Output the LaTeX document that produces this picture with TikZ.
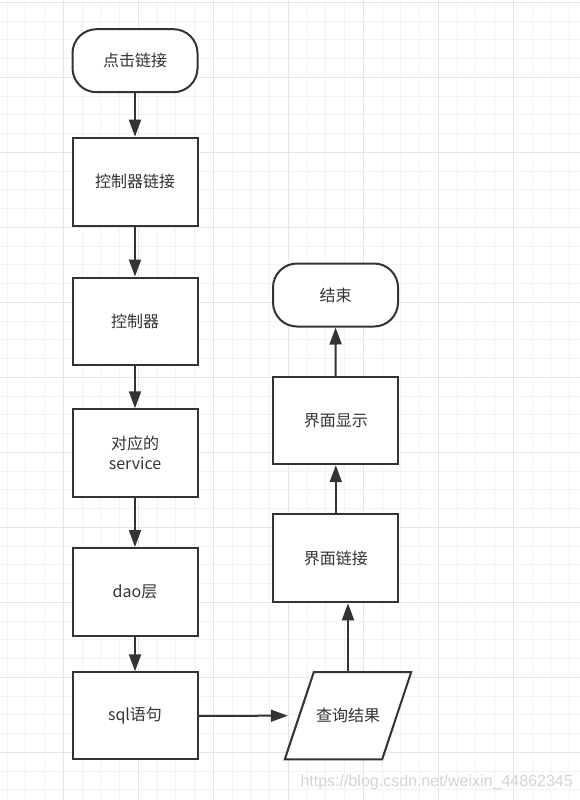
\documentclass[tikz,border=0pt]{standalone}
\usepackage{fontspec}
\setmainfont{Noto Sans CJK SC}
\newfontfamily\wmfont{Liberation Sans}
\usepackage{xcolor}
\usetikzlibrary{arrows.meta, positioning, calc}
\definecolor{inkgray}{HTML}{333333}
\definecolor{gridminor}{HTML}{F3F3F3}
\definecolor{gridmajor}{HTML}{E6E6E6}
\tikzset{
    box/.style={draw=inkgray, line width=2pt, fill=white, minimum width=125pt, minimum height=87pt, inner sep=0pt, align=center},
    terminal/.style={box, minimum height=63pt, rounded corners=24pt},
    flow/.style={-{Triangle[length=17pt, width=12pt]}, draw=inkgray, line width=2pt},
    every node/.style={font=\fontsize{16pt}{20pt}\selectfont, text=inkgray}
}
\begin{document}
\begin{tikzpicture}[x=1pt, y=-1pt]
    \useasboundingbox (0,0) rectangle (580,800);
    \fill[white] (0,0) rectangle (580,800);
    % grid
    \foreach \k in {0,...,30} \draw[gridminor, line width=1pt] ({7.05+18.75*\k},0) -- ++(0,800);
    \foreach \k in {0,...,42} \draw[gridminor, line width=1pt] (0,{2.3+18.75*\k}) -- ++(580,0);
    \foreach \k in {0,...,7} \draw[gridmajor, line width=1pt] ({63.3+75*\k},0) -- ++(0,800);
    \foreach \k in {0,...,10} \draw[gridmajor, line width=1pt] (0,{2.3+75*\k}) -- ++(580,0);
    % left column
    \node[terminal] (click) at (135,60.7) {点击链接};
    \node[box, minimum height=88pt] (ctrllink) at (135,181.7) {控制器链接};
    \node[box] (ctrl) at (135,321) {控制器};
    \node[box, minimum height=88pt] (service) at (135,453.3) {对应的\\service};
    \node[box, minimum height=88pt] (dao) at (135,592) {dao层};
    \node[box] (sql) at (135,715.8) {sql语句};
    % result (parallelogram)
    \node[minimum width=97pt, minimum height=86.7pt, inner sep=0pt] (result) at (348,715.7) {};
    \draw[inkgray, line width=2pt, fill=white, line join=miter]
        ($(result.north west)+(14.5,0)$) -- ($(result.north east)+(14.5,0)$)
        -- ($(result.south east)+(-14.5,0)$) -- ($(result.south west)+(-14.5,0)$) -- cycle;
    \node at (result) {查询结果};
    % right column
    \node[box, minimum height=88pt] (uilink) at (335.8,558.3) {界面链接};
    \node[box] (uishow) at (335.8,420.7) {界面显示};
    \node[terminal] (finish) at (335.5,295) {结束};
    % connectors
    \draw[flow] (click) -- (ctrllink);
    \draw[flow] (ctrllink) -- (ctrl);
    \draw[flow] (ctrl) -- (service);
    \draw[flow] (service) -- (dao);
    \draw[flow] (dao) -- (sql);
    \draw[flow, shorten >=11.5pt] (sql.east) -- (result.west);
    \draw[flow] (result.north) -- (result.north |- uilink.south);
    \draw[flow] (uilink) -- (uishow);
    \draw[flow] (uishow) -- (finish);
    % watermark
    \node[anchor=west, text=black!17, font=\wmfont\fontsize{16pt}{18pt}\selectfont] (mark) at (297,782) {https://blog.csdn.net/weixin\_44862345};
\end{tikzpicture}
\end{document}
